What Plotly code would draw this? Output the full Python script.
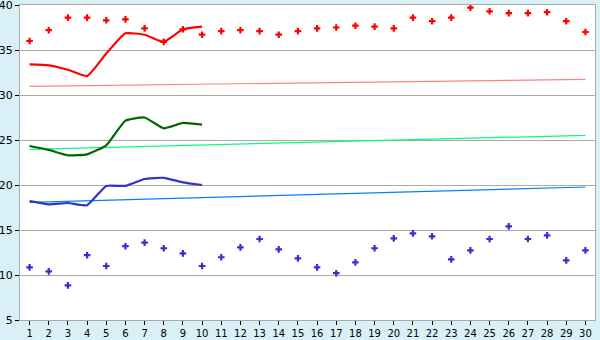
import plotly.graph_objects as go

days = list(range(1, 31))
max_points = [36.0, 37.2, 38.6, 38.6, 38.3, 38.4, 37.4, 35.9, 37.3, 36.7,
              37.1, 37.2, 37.1, 36.7, 37.1, 37.4, 37.5, 37.7, 37.6, 37.4,
              38.6, 38.2, 38.6, 39.7, 39.3, 39.1, 39.1, 39.2, 38.2, 37.0]
min_points = [10.85, 10.4, 8.85, 12.2, 11.0, 13.2, 13.6, 12.97, 12.4, 11.0,
              11.97, 13.07, 14.0, 12.85, 11.85, 10.85, 10.2, 11.4, 12.97, 14.07,
              14.63, 14.3, 11.74, 12.74, 14.0, 15.4, 14.0, 14.4, 11.63, 12.74]
line_days = list(range(1, 11))
red_line = [33.4, 33.3, 32.8, 32.1, 34.6, 36.85, 36.7, 35.9, 37.3, 37.6]
green_line = [24.33, 23.9, 23.3, 23.4, 24.4, 27.15, 27.5, 26.3, 26.9, 26.7]
blue_line = [18.2, 17.85, 18.0, 17.75, 19.9, 19.9, 20.67, 20.8, 20.3, 20.0]
trend_days = [1, 30]
pink_trend = [30.96, 31.74]
lgreen_trend = [23.96, 25.52]
lblue_trend = [18.07, 19.78]

fig = go.Figure()
for y, c in [(pink_trend, "#FF8080"), (lgreen_trend, "#00FF80"), (lblue_trend, "#0080FF")]:
    fig.add_trace(go.Scatter(x=trend_days, y=y, mode="lines",
                             line=dict(color=c, width=1.2)))
for y, c in [(red_line, "#FF0000"), (green_line, "#006600"), (blue_line, "#3333CC")]:
    fig.add_trace(go.Scatter(x=line_days, y=y, mode="lines",
                             line=dict(color=c, width=2.2, shape="spline", smoothing=0.4)))
fig.add_trace(go.Scatter(x=days, y=max_points, mode="markers",
                         marker=dict(symbol="cross", size=5.5, color="#FF0000", line=dict(width=0))))
fig.add_trace(go.Scatter(x=days, y=min_points, mode="markers",
                         marker=dict(symbol="cross", size=5.5, color="#3333CC", line=dict(width=0))))

fig.update_layout(
    width=600, height=340,
    margin=dict(l=20, r=5, t=5, b=20),
    paper_bgcolor="#D9F0F7",
    plot_bgcolor="#FFFFFF",
    showlegend=False,
    font=dict(family="DejaVu Sans", size=10, color="#000000"),
)
fig.update_xaxes(range=[0.5, 30.5], tickmode="array", tickvals=days,
                 ticks="outside", ticklen=4, tickcolor="#000000",
                 showgrid=False, showline=True, linecolor="#AAAAAA",
                 linewidth=1, mirror=True, zeroline=False,
                 automargin=False, ticklabeloverflow="allow",
                 tickfont=dict(size=10))
fig.update_yaxes(range=[5, 40], tickmode="array", tickvals=list(range(5, 41, 5)),
                 ticks="outside", ticklen=4, tickcolor="#000000",
                 showgrid=True, gridcolor="#AAAAAA", gridwidth=1,
                 showline=True, linecolor="#AAAAAA", linewidth=1, mirror=True,
                 zeroline=False, automargin=False, ticklabeloverflow="allow",
                 tickfont=dict(size=11))
fig.write_html("out.html")
